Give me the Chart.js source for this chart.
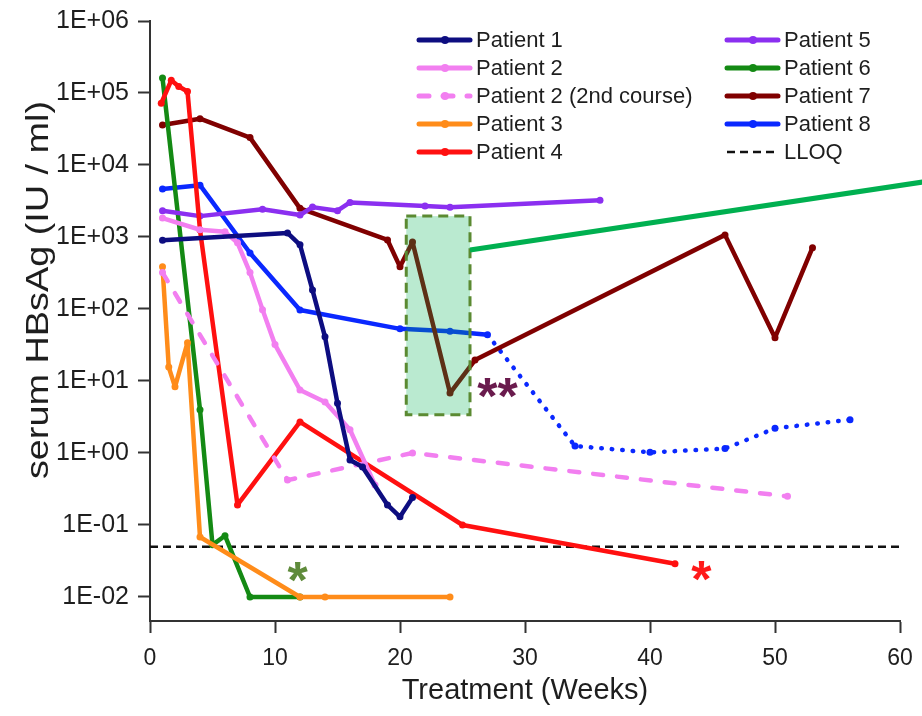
<!DOCTYPE html>
<html lang="en">
<head>
<meta charset="UTF-8" />
<title>Serum HBsAg during treatment</title>
<script src="https://cdn.jsdelivr.net/npm/chart.js"></script>
<style>
  html, body { margin: 0; padding: 0; background: #fff; }
  #wrap { width: 922px; height: 716px; }
</style>
</head>
<body>
<div id="wrap"><canvas id="hbsChart" width="922" height="716"></canvas></div>
<script>
  // weeks of treatment and serum HBsAg (IU/ml)
  const p1Weeks = [1, 11, 12, 13, 14, 15, 16, 17, 19, 20, 21];
  const p1Values = [900, 1140, 780, 183, 41, 4.9, 0.8, 0.64, 0.19, 0.13, 0.24];

  const p2Weeks = [1, 4, 6, 7, 8, 9, 10, 12, 14, 16, 18];
  const p2Values = [1830, 1260, 1180, 830, 320, 98, 32, 7.5, 5.1, 2.1, 0.36];

  const p2bWeeks = [1, 11, 21, 51];
  const p2bValues = [320, 0.42, 1.0, 0.25];

  const p3Weeks = [1, 1.5, 2, 3, 4, 12, 14, 24];
  const p3Values = [385, 15.6, 8.3, 34, 0.068, 0.01, 0.01, 0.01];

  const p4Weeks = [0.9, 1.7, 2.3, 3, 4, 7, 12, 25, 42];
  const p4Values = [72000, 150000, 123000, 105000, 1250, 0.19, 2.7, 0.1, 0.029];

  const p5Weeks = [1, 4, 9, 12, 13, 15, 16, 22, 24, 36];
  const p5Values = [2320, 1950, 2430, 2020, 2600, 2320, 3020, 2700, 2590, 3240];

  const p6Weeks = [1, 4, 5, 6, 8, 12];
  const p6Values = [162000, 4.0, 0.053, 0.071, 0.01, 0.01];

  const p7Weeks = [1, 4, 8, 12, 19, 20, 21, 24, 26, 46, 50, 53];
  const p7Values = [36000, 44000, 24000, 2500, 910, 385, 850, 6.8, 19.5, 1070, 40, 710];

  const p8Weeks = [1, 4, 8, 12, 20, 24, 27, 34, 40, 46, 50, 56];
  const p8Values = [4640, 5250, 600, 97, 53, 49, 44, 1.25, 1.02, 1.15, 2.2, 2.9];
  const p8FollowUpFrom = 27; // dotted after this week

  const LLOQ = 0.05;
  const weekRange = [0, 60];

  const yTickValues = [1e-2, 1e-1, 1e0, 1e1, 1e2, 1e3, 1e4, 1e5, 1e6];
  const yTickLabels = ['1E-02', '1E-01', '1E+00', '1E+01', '1E+02', '1E+03', '1E+04', '1E+05', '1E+06'];

  // highlighted window (weeks, IU/ml) and its callout
  const boxWeeks = [20.5, 25.6];
  const boxLevels = [3.4, 1950];
  const calloutFrom = [25.6, 660];
  const calloutTo = [61.8, 5800];

  const stars = [
    { text: '**', week: 27.8, level: 3.5, color: '#6a1b4d' },
    { text: '*', week: 11.8, level: 0.0097, color: '#5f8b3b' },
    { text: '*', week: 44.1, level: 0.0099, color: '#ff1a1a' }
  ];

  const FONT = "'Liberation Sans', Arial, sans-serif";
  const INK = '#1e1e1e';

  function pts(weeks, values) {
    return weeks.map((w, i) => ({ x: w, y: values[i] }));
  }

  function series(label, weeks, values, color, extra) {
    return Object.assign({
      label,
      data: pts(weeks, values),
      borderColor: color,
      backgroundColor: color,
      borderWidth: 4.5,
      borderDash: [],
      pointRadius: 3.5,
      pointHoverRadius: 3.5,
      pointBorderWidth: 0,
      tension: 0,
      fill: false,
      borderJoinStyle: 'round',
      borderCapStyle: 'round'
    }, extra || {});
  }

  const datasets = [
    series('Patient 1', p1Weeks, p1Values, '#0d0d80'),
    series('Patient 2', p2Weeks, p2Values, '#f27ff0'),
    series('Patient 2 (2nd course)', p2bWeeks, p2bValues, '#f27ff0', { borderDash: [10, 14] }),
    series('Patient 3', p3Weeks, p3Values, '#ff8c1a'),
    series('Patient 4', p4Weeks, p4Values, '#ff1010'),
    series('Patient 5', p5Weeks, p5Values, '#8b2ff0'),
    series('Patient 6', p6Weeks, p6Values, '#148a14'),
    series('Patient 7', p7Weeks, p7Values, '#800000'),
    series('Patient 8', p8Weeks, p8Values, '#0a28ff', {
      segment: { borderDash: ctx => ctx.p0.parsed.x >= p8FollowUpFrom ? [0.5, 10] : undefined }
    }),
    series('LLOQ', weekRange, [LLOQ, LLOQ], '#111', {
      borderWidth: 2.5, borderDash: [8, 5], pointRadius: 0, borderCapStyle: 'butt'
    })
  ];

  const annotate = {
    id: 'annotate',
    afterDatasetsDraw(chart) {
      const { ctx, scales: { x, y } } = chart;
      const bx0 = x.getPixelForValue(boxWeeks[0]);
      const bx1 = x.getPixelForValue(boxWeeks[1]);
      const byTop = y.getPixelForValue(boxLevels[1]);
      const byBot = y.getPixelForValue(boxLevels[0]);
      ctx.save();
      ctx.fillStyle = 'rgba(0, 176, 80, 0.27)';
      ctx.fillRect(bx0, byTop, bx1 - bx0, byBot - byTop);
      ctx.setLineDash([10, 6]);
      ctx.lineWidth = 3;
      ctx.strokeStyle = '#5b8a32';
      ctx.strokeRect(bx0, byTop, bx1 - bx0, byBot - byTop);

      ctx.setLineDash([]);
      ctx.lineWidth = 5;
      ctx.strokeStyle = '#00b050';
      ctx.beginPath();
      ctx.moveTo(x.getPixelForValue(calloutFrom[0]), y.getPixelForValue(calloutFrom[1]));
      ctx.lineTo(x.getPixelForValue(calloutTo[0]), y.getPixelForValue(calloutTo[1]));
      ctx.stroke();

      ctx.font = `bold 52px ${FONT}`;
      ctx.textAlign = 'center';
      ctx.textBaseline = 'alphabetic';
      stars.forEach(s => {
        ctx.fillStyle = s.color;
        ctx.fillText(s.text, x.getPixelForValue(s.week), y.getPixelForValue(s.level));
      });
      ctx.restore();
    }
  };

  // two-column legend inside the plot
  const sideLegend = {
    id: 'sideLegend',
    afterDraw(chart) {
      const ctx = chart.ctx;
      chart.data.datasets.forEach((ds, i) => {
        const col = Math.floor(i / 5), row = i % 5;
        const x0 = col ? 725 : 417;
        const y0 = 40 + row * 28;
        ctx.save();
        ctx.strokeStyle = ds.borderColor;
        ctx.lineWidth = ds.pointRadius ? 5 : ds.borderWidth;
        ctx.lineCap = ds.borderCapStyle;
        ctx.setLineDash(ds.borderDash);
        ctx.beginPath();
        ctx.moveTo(x0 + 2, y0);
        ctx.lineTo(x0 + 53, y0);
        ctx.stroke();
        if (ds.pointRadius) {
          ctx.fillStyle = ds.borderColor;
          ctx.beginPath();
          ctx.arc(x0 + 28, y0, 4, 0, Math.PI * 2);
          ctx.fill();
        }
        ctx.fillStyle = INK;
        ctx.font = `22px ${FONT}`;
        ctx.textBaseline = 'middle';
        ctx.fillText(ds.label, x0 + 59, y0 + 1);
        ctx.restore();
      });
    }
  };

  // y title: tall, narrow lettering as in the source figure
  const yTitle = {
    id: 'yTitle',
    afterDraw(chart) {
      const ctx = chart.ctx;
      ctx.save();
      ctx.translate(39, 290);
      ctx.rotate(-Math.PI / 2);
      ctx.scale(1.22, 1);
      ctx.font = `31px ${FONT}`;
      ctx.fillStyle = INK;
      ctx.textAlign = 'center';
      ctx.textBaseline = 'middle';
      ctx.fillText('serum HBsAg (IU / ml)', 0, 0);
      ctx.restore();
    }
  };

  const axisGrid = {
    display: true, drawOnChartArea: false, drawTicks: true,
    tickLength: 12, tickColor: '#333', tickWidth: 2
  };

  new Chart(document.getElementById('hbsChart'), {
    type: 'line',
    data: { datasets },
    options: {
      responsive: false,
      animation: false,
      events: [],
      layout: { padding: { top: 21, right: 22, left: 0, bottom: 0 } },
      plugins: { legend: { display: false }, tooltip: { enabled: false } },
      scales: {
        x: {
          type: 'linear',
          min: weekRange[0],
          max: weekRange[1],
          afterFit: s => { s.height = 95; s.paddingLeft = 0; s.paddingRight = 0; },
          grid: axisGrid,
          border: { display: true, color: '#333', width: 2 },
          ticks: { stepSize: 10, padding: 12, color: INK, font: { family: FONT, size: 23 } },
          title: {
            display: true, text: 'Treatment (Weeks)', color: INK,
            font: { family: FONT, size: 29 }, padding: { top: 0, bottom: 8 }
          }
        },
        y: {
          type: 'logarithmic',
          min: 0.00464,
          max: 1e6,
          afterFit: s => { s.width = 150; s.paddingTop = 0; s.paddingBottom = 0; },
          afterBuildTicks: s => { s.ticks = yTickValues.map(v => ({ value: v })); },
          grid: axisGrid,
          border: { display: true, color: '#333', width: 2 },
          ticks: {
            padding: 9, color: INK, font: { family: FONT, size: 25 },
            callback: v => yTickLabels[yTickValues.indexOf(v)]
          }
        }
      }
    },
    plugins: [annotate, sideLegend, yTitle]
  });
</script>
</body>
</html>
